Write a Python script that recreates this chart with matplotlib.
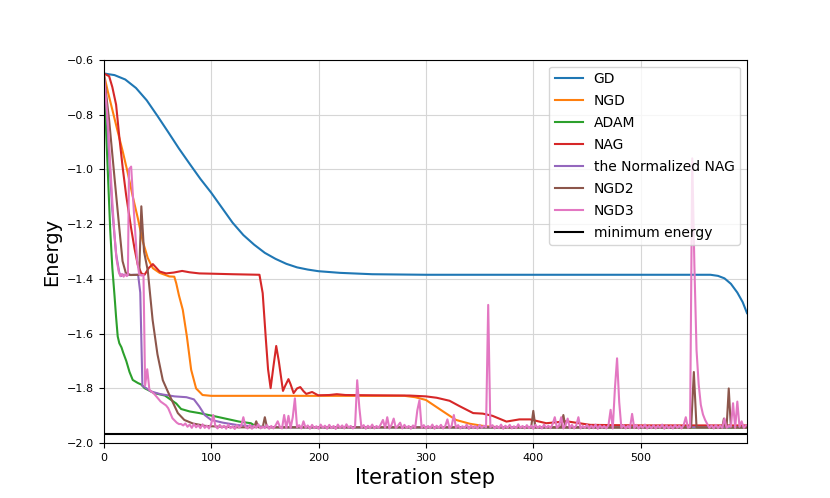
import numpy as np
import matplotlib
matplotlib.use('Agg')
import matplotlib.pyplot as plt

# values (iteration step, energy)
gd_steps = [0, 10, 20, 30, 40, 50, 60, 70, 80, 90, 100, 110, 120, 130, 140, 150, 160,
            170, 180, 190, 200, 220, 250, 300, 565, 572, 578, 584, 590, 595, 599]
gd_energy = [-0.650, -0.656, -0.672, -0.703, -0.748, -0.805, -0.864, -0.924, -0.980,
             -1.035, -1.085, -1.140, -1.195, -1.240, -1.275, -1.305, -1.327, -1.345,
             -1.358, -1.366, -1.372, -1.378, -1.383, -1.385, -1.385, -1.389, -1.398,
             -1.418, -1.450, -1.485, -1.525]

ngd_steps = [0, 3.8, 8.4, 13, 17.7, 22.4, 27, 31.7, 36.4, 41, 45.7, 52, 61, 65.7, 67.5,
             70, 73.6, 77.4, 81.4, 86, 92, 100, 280, 290, 300, 316, 328, 341, 355, 370, 599]
ngd_energy = [-0.650, -0.716, -0.789, -0.862, -0.935, -1.014, -1.099, -1.178, -1.264,
              -1.324, -1.361, -1.378, -1.391, -1.392, -1.416, -1.460, -1.513, -1.610,
              -1.732, -1.800, -1.824, -1.827, -1.827, -1.832, -1.842, -1.884, -1.915,
              -1.929, -1.938, -1.942, -1.943]

adam_steps = [0, 2, 4, 6, 8, 10, 11.5, 13, 14.5, 16.5, 18, 21, 24, 27, 31.7, 35, 38, 47,
              57, 62, 67.5, 72, 80, 89, 105, 126, 137, 142, 160, 599]
adam_energy = [-0.650, -0.840, -1.030, -1.220, -1.360, -1.460, -1.540, -1.610, -1.635,
               -1.650, -1.668, -1.700, -1.740, -1.769, -1.780, -1.786, -1.799, -1.817,
               -1.826, -1.840, -1.855, -1.875, -1.884, -1.890, -1.903, -1.921, -1.927,
               -1.939, -1.942, -1.943]

nag_steps = [0, 5, 8, 11.5, 14.6, 17.7, 20.8, 25.5, 28.6, 31.7, 35, 38, 42, 45.7, 49, 52,
             58, 65, 73, 80, 89, 100, 120, 145, 148, 151, 153, 155.4, 158, 160.6, 163,
             166.9, 169, 172, 174, 176.8, 180, 183, 186, 188.6, 194, 199.6, 210, 217, 225,
             250, 285, 300, 310, 322, 331, 344, 353, 362, 375, 387, 397, 412, 431, 453,
             500, 599]
nag_energy = [-0.650, -0.660, -0.700, -0.764, -0.886, -0.996, -1.093, -1.215, -1.288,
              -1.349, -1.380, -1.385, -1.360, -1.346, -1.360, -1.373, -1.380, -1.377,
              -1.371, -1.376, -1.380, -1.381, -1.383, -1.385, -1.452, -1.623, -1.730,
              -1.799, -1.720, -1.645, -1.700, -1.809, -1.790, -1.766, -1.785, -1.817,
              -1.800, -1.795, -1.810, -1.820, -1.813, -1.825, -1.824, -1.821, -1.824,
              -1.825, -1.826, -1.829, -1.834, -1.845, -1.864, -1.890, -1.892, -1.900,
              -1.921, -1.913, -1.913, -1.927, -1.920, -1.933, -1.935, -1.935]

nnag_steps = [0, 2, 5, 8, 11.5, 14.5, 16, 18, 22, 28, 32, 34, 36, 38, 40, 44, 53, 66,
              77, 84, 89, 94, 100, 111, 125, 145, 170, 599]
nnag_energy = [-0.650, -0.730, -0.950, -1.150, -1.310, -1.378, -1.390, -1.385, -1.386,
               -1.385, -1.385, -1.450, -1.790, -1.795, -1.800, -1.811, -1.821, -1.829,
               -1.832, -1.840, -1.866, -1.897, -1.915, -1.925, -1.934, -1.940, -1.942,
               -1.942]

ngd2_steps = [0, 5, 10, 14.5, 17.5, 20.5, 25, 33, 35, 37.5, 41, 45.5, 50, 55, 59.5, 64,
              69, 75, 83, 95, 110, 125, 140, 142, 144, 148, 150, 152, 398, 400, 402, 426,
              428, 430, 547, 549.5, 552, 576, 577.5, 579, 580, 582, 584, 599]
ngd2_energy = [-0.650, -0.820, -1.030, -1.215, -1.335, -1.378, -1.386, -1.385, -1.135,
               -1.300, -1.370, -1.550, -1.675, -1.770, -1.810, -1.848, -1.890, -1.915,
               -1.928, -1.937, -1.940, -1.942, -1.942, -1.920, -1.942, -1.942, -1.905,
               -1.942, -1.942, -1.882, -1.942, -1.942, -1.897, -1.942, -1.942, -1.740,
               -1.942, -1.942, -1.910, -1.942, -1.942, -1.800, -1.942, -1.942]

ngd3_head_steps = [0, 2, 4, 6, 8, 10, 12, 14, 15.5, 17, 18.5, 20, 21.5, 22.5, 23.5, 25.5,
                   28, 31, 33, 35, 37, 38.5, 40.5, 42.5, 47, 53, 58, 60, 64, 68, 70]
ngd3_head_energy = [-0.650, -0.740, -0.840, -0.980, -1.120, -1.240, -1.330, -1.375,
                    -1.390, -1.382, -1.392, -1.383, -1.390, -1.385, -1.000, -0.990,
                    -1.150, -1.330, -1.383, -1.388, -1.385, -1.790, -1.730, -1.805,
                    -1.820, -1.848, -1.862, -1.872, -1.909, -1.925, -1.930]
# NGD3 from step 72 to 598, every second step
ngd3_tail_energy = [
    -1.930, -1.935, -1.928, -1.940, -1.932, -1.944, -1.930, -1.942, -1.934, -1.945,
    -1.931, -1.944, -1.936, -1.946, -1.930, -1.897, -1.938, -1.946, -1.933, -1.944,
    -1.936, -1.947, -1.932, -1.945, -1.938, -1.948, -1.934, -1.943, -1.937, -1.905,
    -1.940, -1.946, -1.933, -1.947, -1.936, -1.944, -1.931, -1.946, -1.939, -1.945,
    -1.934, -1.947, -1.937, -1.946, -1.935, -1.920, -1.940, -1.946, -1.897, -1.945,
    -1.900, -1.945, -1.905, -1.836, -1.942, -1.934, -1.946, -1.920, -1.944, -1.935,
    -1.947, -1.933, -1.945, -1.938, -1.947, -1.932, -1.944, -1.936, -1.947, -1.933,
    -1.945, -1.937, -1.948, -1.932, -1.944, -1.935, -1.946, -1.931, -1.943, -1.937,
    -1.946, -1.940, -1.770, -1.870, -1.944, -1.934, -1.947, -1.936, -1.945, -1.932,
    -1.946, -1.937, -1.944, -1.931, -1.915, -1.944, -1.905, -1.946, -1.933, -1.910,
    -1.945, -1.936, -1.925, -1.946, -1.933, -1.944, -1.937, -1.947, -1.935, -1.944,
    -1.880, -1.843, -1.944, -1.934, -1.946, -1.937, -1.945, -1.932, -1.947, -1.936,
    -1.944, -1.933, -1.946, -1.937, -1.913, -1.945, -1.936, -1.897, -1.944, -1.934,
    -1.946, -1.938, -1.944, -1.932, -1.947, -1.935, -1.945, -1.937, -1.946, -1.933,
    -1.944, -1.936, -1.942, -1.495, -1.942, -1.934, -1.946, -1.937, -1.945, -1.932,
    -1.947, -1.936, -1.944, -1.933, -1.946, -1.938, -1.945, -1.931, -1.944, -1.937,
    -1.946, -1.934, -1.945, -1.936, -1.947, -1.933, -1.944, -1.937, -1.946, -1.932,
    -1.944, -1.936, -1.945, -1.930, -1.905, -1.944, -1.935, -1.905, -1.946, -1.934,
    -1.910, -1.945, -1.933, -1.946, -1.935, -1.905, -1.946, -1.937, -1.944, -1.933,
    -1.946, -1.936, -1.945, -1.932, -1.947, -1.935, -1.944, -1.937, -1.946, -1.934,
    -1.878, -1.946, -1.800, -1.690, -1.850, -1.944, -1.934, -1.946, -1.937, -1.945,
    -1.893, -1.945, -1.933, -1.946, -1.936, -1.944, -1.932, -1.946, -1.937, -1.945,
    -1.934, -1.946, -1.936, -1.944, -1.932, -1.947, -1.935, -1.945, -1.937, -1.946,
    -1.933, -1.944, -1.936, -1.946, -1.934, -1.905, -1.944, -1.940, -0.960, -1.350,
    -1.660, -1.785, -1.860, -1.895, -1.915, -1.930, -1.944, -1.935, -1.946, -1.933,
    -1.945, -1.936, -1.944, -1.910, -1.944, -1.936, -1.940, -1.854, -1.944, -1.848,
    -1.940, -1.920, -1.944, -1.935]
ngd3_tail_steps = np.arange(72, 599, 2)

min_energy = -1.967

ngd3_steps = np.concatenate([ngd3_head_steps, ngd3_tail_steps])
ngd3_energy = np.concatenate([ngd3_head_energy, ngd3_tail_energy])

fig = plt.figure(figsize=(8.3, 4.98), dpi=100)
ax = fig.add_subplot(111)

ax.plot(gd_steps, gd_energy, label='GD')
ax.plot(ngd_steps, ngd_energy, label='NGD')
ax.plot(adam_steps, adam_energy, label='ADAM')
ax.plot(nag_steps, nag_energy, label='NAG')
ax.plot(nnag_steps, nnag_energy, label='the Normalized NAG')
ax.plot(ngd2_steps, ngd2_energy, label='NGD2')
ax.plot(ngd3_steps, ngd3_energy, label='NGD3')
ax.axhline(min_energy, color='black', label='minimum energy')

ax.set_xlim(0, 599)
ax.set_ylim(-2.0, -0.6)
ax.grid(True, color='#d6d6d6')
ax.tick_params(labelsize=8)
ax.set_xlabel('Iteration step', fontsize=15)
ax.set_ylabel('Energy', fontsize=14)
ax.legend(loc='upper right', labelspacing=0.57)

fig.savefig('out.png', dpi=100)
